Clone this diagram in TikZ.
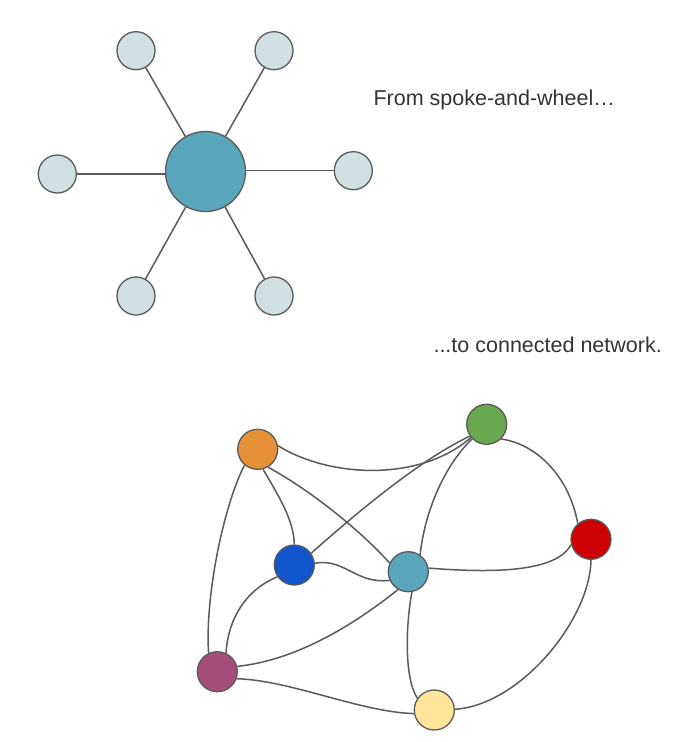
\documentclass[tikz,border=0pt]{standalone}
\usepackage{fontspec}
\setmainfont{Liberation Sans}
\usetikzlibrary{positioning}

\definecolor{rimgray}{HTML}{5A5A5A}
\definecolor{hubteal}{HTML}{5AA6BB}
\definecolor{rimlight}{HTML}{D0E0E3}
\definecolor{nodeorange}{HTML}{E69138}
\definecolor{nodegreen}{HTML}{6AA84F}
\definecolor{nodered}{HTML}{CC0000}
\definecolor{nodeblue}{HTML}{1155CC}
\definecolor{nodepurple}{HTML}{A64D79}
\definecolor{nodeyellow}{HTML}{FFE599}

\begin{document}
\begin{tikzpicture}[x=1pt, y=-1pt,
    every node/.style={font=\fontsize{21.5}{26}\selectfont, text=black!80},
    hubnode/.style={circle, draw=rimgray, line width=1.3pt, fill=hubteal, minimum size=80pt, inner sep=0pt},
    rimnode/.style={circle, draw=rimgray, line width=1.3pt, fill=rimlight, minimum size=38pt, inner sep=0pt},
    netnode/.style={circle, draw=rimgray, line width=1.3pt, minimum size=40pt, inner sep=0pt},
    link/.style={draw=rimgray, line width=1.5pt}]
  \useasboundingbox (0,0) rectangle (691,742);

  % spoke and wheel
  \node[hubnode] (hub) at (205.5,171.5) {};
  \node[rimnode] (tl) at (136,50.7) {};
  \node[rimnode] (tr) at (274,50.7) {};
  \node[rimnode] (ml) at (57.3,174) {};
  \node[rimnode] (mr) at (353.3,170.7) {};
  \node[rimnode] (bl) at (136,296) {};
  \node[rimnode] (br) at (274,296) {};
  \foreach \s in {tl,tr,bl,br} \draw[link] (hub) -- (\s);
  \draw[link] (hub.west |- ml) -- (ml);
  \draw[link] (hub.east |- mr) -- (mr);

  \node[anchor=base west] (from) at (370,105) {From spoke-and-wheel\ldots};
  \node[anchor=base west] (to) at (430,352) {...to connected network.};

  % connected network
  \node[netnode, fill=nodeorange] (or) at (257.7,449.3) {};
  \node[netnode, fill=nodegreen] (gr) at (486.7,424.3) {};
  \node[netnode, fill=nodered] (re) at (591,539.3) {};
  \node[netnode, fill=nodeblue] (bu) at (294.3,565) {};
  \node[netnode, fill=hubteal] (te) at (408.3,571.7) {};
  \node[netnode, fill=nodepurple] (pu) at (217.3,671.7) {};
  \node[netnode, fill=nodeyellow] (ye) at (434.3,710) {};

  \draw[link] (or.10) .. controls (330,478) and (420,482) .. (gr.220);
  \draw[link] (or.-60) .. controls (310,490) and (360,530) .. (te.155);
  \draw[link] (or.-75) .. controls (278,495) and (294,520) .. (bu.90);
  \draw[link] (or.-130) .. controls (222,510) and (205,600) .. (pu.115);
  \draw[link] (bu.35) .. controls (360,510) and (420,460) .. (gr.215);
  \draw[link] (te.55) .. controls (425,510) and (445,465) .. (gr.225);
  \draw[link] (gr.-45) .. controls (540,445) and (570,480) .. (re.130);
  \draw[link] (bu.5) .. controls (345,558) and (355,584) .. (te.205);
  \draw[link] (te.10) .. controls (480,572) and (555,575) .. (re.195);
  \draw[link] (bu.215) .. controls (245,590) and (228,620) .. (pu.65);
  \draw[link] (te.240) .. controls (360,620) and (300,660) .. (pu.15);
  \draw[link] (te.-80) .. controls (405,630) and (405,680) .. (ye.145);
  \draw[link] (pu.-20) .. controls (290,680) and (360,712) .. (ye.190);
  \draw[link] (re.-90) .. controls (590,620) and (520,705) .. (ye.2);
\end{tikzpicture}
\end{document}
